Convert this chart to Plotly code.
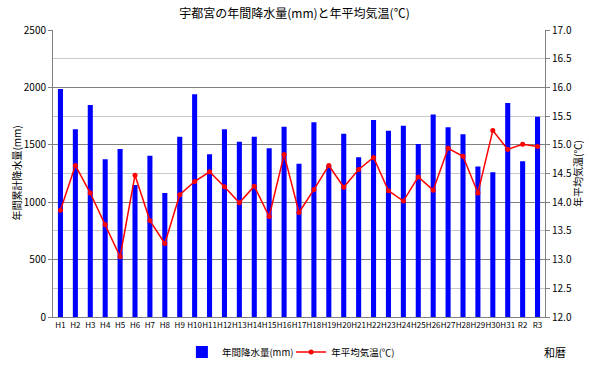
import plotly.graph_objects as go

years = ["H1","H2","H3","H4","H5","H6","H7","H8","H9","H10","H11","H12","H13","H14","H15","H16",
         "H17","H18","H19","H20","H21","H22","H23","H24","H25","H26","H27","H28","H29","H30","H31","R2","R3"]
rain_mm = [1985,1635,1847,1374,1463,1150,1405,1080,1571,1940,1417,1635,1527,1571,1469,1658,
           1336,1696,1321,1597,1391,1716,1623,1667,1507,1763,1652,1591,1310,1260,1864,1356,1745]
temp_c = [13.86,14.64,14.16,13.61,13.05,14.47,13.68,13.28,14.13,14.36,14.53,14.27,13.99,14.28,13.75,14.83,
          13.82,14.22,14.64,14.26,14.57,14.78,14.20,14.02,14.44,14.21,14.94,14.80,14.16,15.25,14.92,15.01,14.97]

FONT = "Noto Sans CJK JP"

fig = go.Figure()
fig.add_trace(go.Bar(x=years, y=rain_mm, name="年間降水量(mm)",
                     marker=dict(color="#0000ff", line=dict(width=0)), yaxis="y",
                     legend="legend"))
fig.add_trace(go.Scatter(x=years, y=temp_c, name="年平均気温(℃)", mode="lines+markers",
                         line=dict(color="#ff0000", width=1.5),
                         marker=dict(color="#ff0000", size=5), yaxis="y2",
                         legend="legend2"))

leg_common = dict(orientation="h", xanchor="left", y=-0.122, yanchor="middle",
                  font=dict(size=9.5), bgcolor="rgba(0,0,0,0)")

fig.update_layout(
    width=589, height=366,
    margin=dict(l=53, r=44, t=30, b=49, autoexpand=False),
    paper_bgcolor="white", plot_bgcolor="white",
    font=dict(family=FONT, size=10, color="#000000"),
    title=dict(text="宇都宮の年間降水量(mm)と年平均気温(℃)", x=0.5, xanchor="center",
               y=1 - 14/366, yanchor="middle", font=dict(size=12, family=FONT)),
    bargap=0.66,
    showlegend=True,
    legend=dict(x=0.262, **leg_common),
    legend2=dict(x=0.484, **leg_common),
    xaxis=dict(type="category", range=[-0.5, len(years) - 0.5], tickangle=0, showline=True,
               linecolor="#808080", linewidth=1, showgrid=False, ticks="",
               tickfont=dict(size=8), automargin=False),
    yaxis=dict(range=[0, 2500], dtick=500, showgrid=True, gridcolor="#808080", gridwidth=1,
               showline=True, linecolor="#808080", linewidth=1, ticks="outside", ticklen=4,
               tickcolor="#808080", zeroline=False, tickfont=dict(size=10), automargin=False,
               minor=dict(dtick=250, showgrid=True, gridcolor="#c8c8c8", gridwidth=1)),
    yaxis2=dict(range=[12, 17], dtick=0.5, tickformat=".1f", overlaying="y", side="right",
                showgrid=False, showline=True, linecolor="#808080", linewidth=1,
                ticks="outside", ticklen=4, tickcolor="#808080", zeroline=False,
                tickfont=dict(size=10), automargin=False),
    annotations=[
        dict(text="年間累計降水量(mm)", textangle=-90, xref="paper", yref="paper",
             x=-0.075, y=0.5, xanchor="center", yanchor="middle", showarrow=False,
             font=dict(size=10)),
        dict(text="年平均気温(℃)", textangle=-90, xref="paper", yref="paper",
             x=1.066, y=0.5, xanchor="center", yanchor="middle", showarrow=False,
             font=dict(size=10)),
        dict(text="和暦", xref="paper", yref="paper", x=1.02, y=-0.122,
             xanchor="center", yanchor="middle", showarrow=False, font=dict(size=11)),
    ],
)

fig.write_html("out.html", config={"displayModeBar": False},
               post_script="document.body.style.margin='0';document.body.style.overflow='hidden';")
